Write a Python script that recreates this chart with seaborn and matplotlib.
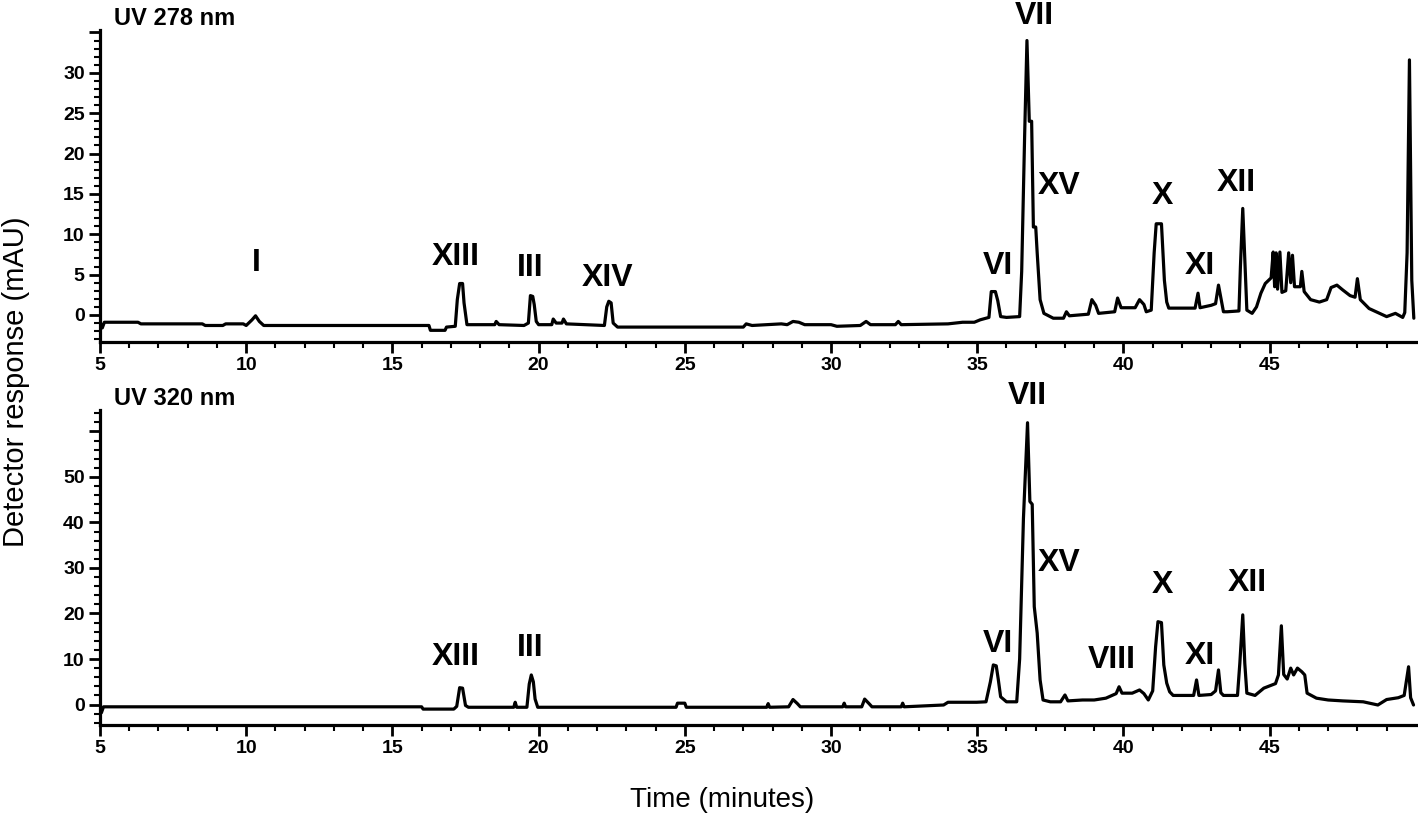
import matplotlib
matplotlib.use("Agg")
import matplotlib.pyplot as plt
import seaborn as sns
import pandas as pd

# Chromatogram traces (time in minutes, response in mAU)
uv278_time = [5.00, 5.08, 5.15, 6.30, 6.40, 8.50, 8.60, 9.20, 9.30, 9.90, 10.00, 10.20, 10.32, 10.45,
              10.60, 16.25, 16.30, 16.80, 16.85, 17.15, 17.22, 17.30, 17.40, 17.45, 17.55, 18.50,
              18.55, 18.65, 19.50, 19.65, 19.72, 19.80, 19.85, 19.92, 20.00, 20.45, 20.50, 20.60,
              20.80, 20.85, 20.95, 21.60, 22.25, 22.33, 22.40, 22.48, 22.55, 22.70, 27.00, 27.10,
              27.30, 28.30, 28.50, 28.70, 28.90, 29.10, 30.00, 30.20, 31.00, 31.20, 31.35, 32.20,
              32.30, 32.40, 34.00, 34.50, 34.90, 35.10, 35.40, 35.48, 35.62, 35.70, 35.80, 36.00,
              36.45, 36.52, 36.62, 36.70, 36.78, 36.86, 36.92, 37.00, 37.05, 37.15, 37.28, 37.60,
              37.95, 38.05, 38.15, 38.80, 38.92, 39.05, 39.15, 39.70, 39.80, 39.92, 40.40, 40.55,
              40.70, 40.78, 40.95, 41.05, 41.12, 41.30, 41.40, 41.48, 41.55, 42.45, 42.55, 42.62,
              43.00, 43.15, 43.25, 43.35, 43.42, 43.55, 43.95, 44.00, 44.08, 44.16, 44.22, 44.40,
              44.55, 44.70, 44.85, 45.05, 45.12, 45.17, 45.22, 45.27, 45.35, 45.42, 45.55, 45.65,
              45.72, 45.78, 45.85, 46.05, 46.10, 46.18, 46.40, 46.70, 46.95, 47.10, 47.30, 47.50,
              47.75, 47.92, 48.00, 48.10, 48.40, 48.70, 49.00, 49.30, 49.55, 49.62, 49.70, 49.78,
              49.86, 49.93]
uv278_mau = [-0.8, -1.6, -0.9, -0.9, -1.1, -1.1, -1.3, -1.3, -1.1, -1.1, -1.3, -0.6, -0.1, -0.8,
             -1.3, -1.3, -1.9, -1.9, -1.5, -1.4, 1.9, 3.9, 3.9, 1.5, -1.2, -1.2,
             -0.8, -1.2, -1.3, -1.0, 2.4, 2.3, 1.3, -0.8, -1.2, -1.2, -0.5, -1.0,
             -1.0, -0.5, -1.1, -1.2, -1.3, 1.0, 1.7, 1.5, -1.0, -1.5, -1.5, -1.1,
             -1.3, -1.1, -1.2, -0.8, -0.9, -1.2, -1.2, -1.4, -1.3, -0.8, -1.2, -1.2,
             -0.8, -1.2, -1.1, -0.9, -0.9, -0.6, -0.3, 2.9, 2.9, 1.8, -0.2, -0.3,
             -0.2, 5.4, 22.1, 34.0, 24.0, 24.0, 10.9, 10.9, 7.7, 1.9, 0.2, -0.4,
             -0.4, 0.4, -0.1, 0.1, 1.9, 1.2, 0.2, 0.4, 2.1, 0.9, 0.9, 1.9,
             1.3, 0.4, 0.6, 7.7, 11.3, 11.3, 4.3, 1.6, 0.85, 0.85, 2.7, 0.9,
             1.2, 1.4, 3.7, 1.8, 0.4, 0.4, 0.5, 6.0, 13.2, 6.0, 0.6, 0.2,
             1.0, 2.7, 3.9, 4.6, 7.8, 3.5, 7.7, 3.2, 7.8, 2.8, 3.0, 7.7,
             4.0, 7.4, 3.5, 3.5, 5.4, 2.9, 1.9, 1.6, 1.9, 3.4, 3.7, 3.1,
             2.4, 2.2, 4.5, 1.9, 0.8, 0.3, -0.2, 0.2, -0.3, 0.3, 7.7, 31.6,
             4.3, -0.4]

uv320_time = [5.00, 5.05, 5.12, 16.00, 16.05, 17.10, 17.20, 17.30, 17.40, 17.50, 17.60, 19.15,
              19.20, 19.25, 19.60, 19.68, 19.75, 19.82, 19.88, 19.97, 24.70, 24.75, 25.00, 25.05,
              27.80, 27.85, 27.90, 28.55, 28.70, 28.85, 28.95, 30.40, 30.45, 30.50, 31.05, 31.15,
              31.30, 31.40, 32.40, 32.45, 32.50, 33.85, 34.00, 34.98, 35.30, 35.45, 35.55, 35.65,
              35.72, 35.80, 36.00, 36.35, 36.45, 36.58, 36.72, 36.80, 36.88, 36.95, 37.05, 37.15,
              37.25, 37.50, 37.85, 38.00, 38.10, 38.60, 39.00, 39.40, 39.75, 39.85, 39.95, 40.30,
              40.55, 40.70, 40.85, 41.00, 41.10, 41.18, 41.30, 41.38, 41.48, 41.58, 41.70, 42.40,
              42.50, 42.58, 43.00, 43.15, 43.25, 43.33, 43.42, 43.90, 43.98, 44.08, 44.15, 44.22,
              44.50, 44.80, 45.20, 45.30, 45.40, 45.48, 45.60, 45.72, 45.82, 45.95, 46.10, 46.20,
              46.28, 46.60, 47.00, 47.50, 48.20, 48.70, 49.00, 49.40, 49.60, 49.75, 49.82, 49.92]
uv320_mau = [-0.5, -1.8, -0.5, -0.5, -1.0, -1.0, -0.4, 3.7, 3.6, -0.2, -0.6, -0.6,
             0.5, -0.6, -0.6, 4.5, 6.5, 5.0, 1.2, -0.6, -0.6, 0.3, 0.3, -0.6,
             -0.6, 0.2, -0.6, -0.5, 1.1, 0.2, -0.5, -0.5, 0.3, -0.5, -0.5, 1.2,
             0.2, -0.5, -0.5, 0.3, -0.5, -0.1, 0.5, 0.5, 0.6, 5.0, 8.7, 8.5,
             5.5, 1.7, 0.6, 0.6, 10.0, 40.9, 61.9, 44.6, 44.0, 21.5, 15.7, 5.4,
             1.0, 0.6, 0.6, 2.1, 0.8, 1.0, 1.0, 1.4, 2.4, 3.9, 2.5, 2.5,
             3.2, 2.4, 1.0, 3.0, 12.7, 18.2, 18.0, 8.7, 4.7, 2.8, 2.0, 2.0,
             5.4, 2.0, 2.2, 3.0, 7.6, 2.6, 2.0, 2.0, 9.1, 19.7, 9.0, 2.5,
             2.0, 3.6, 4.6, 6.5, 17.3, 6.6, 5.6, 8.0, 6.5, 8.0, 7.2, 6.5,
             2.5, 1.4, 1.0, 0.8, 0.6, -0.1, 1.1, 1.5, 2.0, 8.3, 1.5, -0.1]

# Peak labels (compound numbers) and where they sit
uv278_peaks = ["I", "XIII", "III", "XIV", "VI", "VII", "XV", "X", "XI", "XII"]
uv278_peak_time = [10.34, 17.16, 19.7, 22.36, 35.7, 36.95, 37.8, 41.34, 42.6, 43.87]
uv278_peak_mau = [6.4, 7.2, 5.8, 4.6, 6.1, 37.0, 16.0, 14.7, 6.1, 16.4]

uv320_peaks = ["XIII", "III", "VI", "VII", "XV", "VIII", "X", "XI", "XII"]
uv320_peak_time = [17.16, 19.7, 35.7, 36.7, 37.8, 39.6, 41.34, 42.6, 44.25]
uv320_peak_mau = [10.4, 12.4, 13.3, 67.8, 31.1, 9.8, 26.3, 10.7, 26.7]

sns.set_style("ticks")
plt.rcParams['font.family'] = ['Liberation Sans', 'DejaVu Sans']
for key in ["text.color", "axes.labelcolor", "xtick.color", "ytick.color", "axes.edgecolor"]:
    plt.rcParams[key] = "black"

fig = plt.figure(figsize=(14.18, 8.21), dpi=100)
ax_top = fig.add_axes([0.0705, 0.5834, 0.928, 0.380])
ax_bot = fig.add_axes([0.0705, 0.1169, 0.928, 0.3837])

panels = [
    (ax_top, uv278_time, uv278_mau, uv278_peaks, uv278_peak_time, uv278_peak_mau,
     "UV 278 nm", (-3.35, 35.3), 5, 35, 1),
    (ax_bot, uv320_time, uv320_mau, uv320_peaks, uv320_peak_time, uv320_peak_mau,
     "UV 320 nm", (-4.5, 64.7), 10, 60, 2),
]

for ax, t, y, names, pt, py, title, ylim, ystep, ytop, yminor_step in panels:
    df = pd.DataFrame({"time": t, "mAU": y})
    sns.lineplot(data=df, x="time", y="mAU", ax=ax, color="black", linewidth=2.3,
                 estimator=None, sort=False)
    for name, xx, yy in zip(names, pt, py):
        ax.text(xx, yy, name, ha="center", va="center", fontsize=23, fontweight="bold")

    ax.set_xlim(5, 50)
    ax.set_ylim(*ylim)
    ax.set_xticks(range(5, 50, 5))
    ax.set_xticks([m for m in range(6, 50) if m % 5], minor=True)
    yticks = list(range(0, ytop + 1, ystep))
    ylabels = [str(v) for v in yticks[:-1]] + [""]
    ax.set_yticks(yticks, ylabels)
    low = int(ylim[0])
    ax.set_yticks([m for m in range(low - low % yminor_step, int(ylim[1]) + 1, yminor_step)
                   if m % ystep], minor=True)
    ax.tick_params(which="major", length=8, width=2, labelsize=14, pad=3)
    ax.tick_params(which="minor", length=4.5, width=1.5)
    for lab in ax.get_xticklabels() + ax.get_yticklabels():
        lab.set_fontweight("bold")
    for s in ["left", "bottom"]:
        ax.spines[s].set_linewidth(2.3)
    sns.despine(ax=ax)
    ax.set_xlabel("")
    ax.set_ylabel("")
    ax.text(0.011, 1.0, title, transform=ax.transAxes,
            ha="left", va="bottom", fontsize=17, fontweight="bold")

fig.text(0.011, 0.535, "Detector response (mAU)", rotation=90, ha="center", va="center",
         fontsize=21)
fig.text(0.509, 0.025, "Time (minutes)", ha="center", va="center", fontsize=20)

fig.savefig("out.png", dpi=100)
